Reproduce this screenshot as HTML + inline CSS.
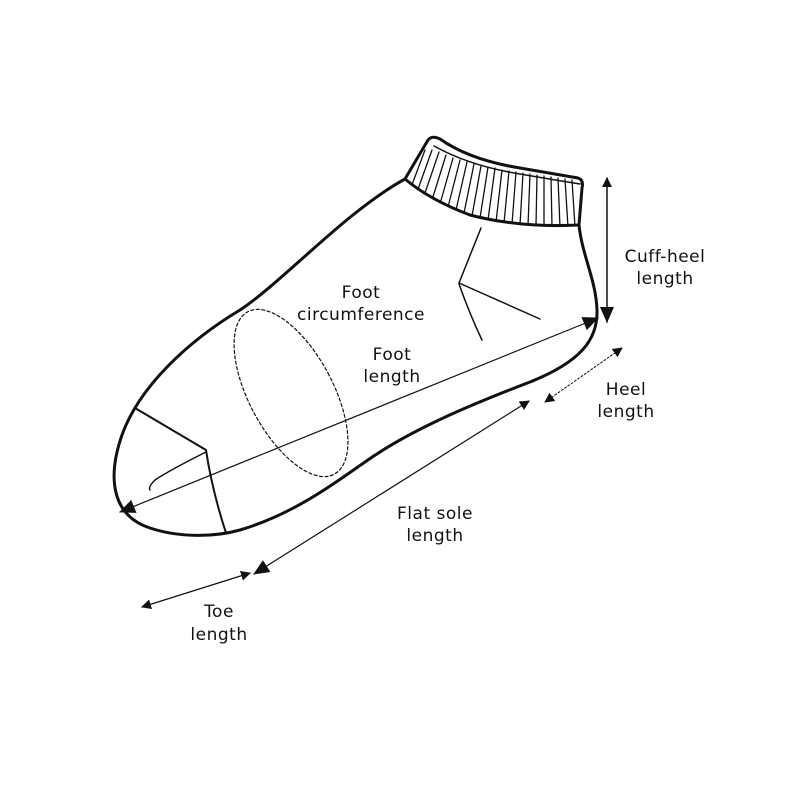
<!DOCTYPE html>
<html><head><style>
body{margin:0;background:#fff}
text{font-family:"DejaVu Sans","Liberation Sans",sans-serif;font-size:17px;fill:#111;text-anchor:middle;letter-spacing:0.5px}
</style></head><body>
<svg width="800" height="800" viewBox="0 0 800 800" xmlns="http://www.w3.org/2000/svg">
<defs>
<marker id="a" markerWidth="10" markerHeight="10" refX="9" refY="5" orient="auto-start-reverse" markerUnits="userSpaceOnUse"><path d="M0,0 L10,5 L0,10 Z" fill="#111"/></marker>
<marker id="b" markerWidth="16" markerHeight="14" refX="15" refY="7" orient="auto-start-reverse" markerUnits="userSpaceOnUse"><path d="M0,0 L16,7 L0,14 Z" fill="#111"/></marker>
<clipPath id="cc"><path d="M428,140 Q432,135 440,139 Q470,160 520,168 Q555,174 578,178 Q584,180 582,188 L579,225 Q520,228 470,215 Q430,200 405,179 Z"/></clipPath>
</defs>
<g fill="none" stroke="#111" stroke-linecap="round" stroke-linejoin="round">
<path stroke-width="3" d="M405,179 C345,212 285,280 240,310 C190,340 140,385 122,435 C108,475 110,515 150,528 C180,538 215,537 240,530 C290,515 325,490 365,462 C410,430 470,405 530,382 C580,362 598,340 597,310 C596,280 582,255 579,225"/>
<path stroke-width="3" d="M428,140 Q432,135 440,139 Q470,160 520,168 Q555,174 578,178 Q584,180 582,188 L579,225 Q520,228 470,215 Q430,200 405,179 Z"/>
<path stroke-width="1.5" d="M434,146 Q470,166 520,174 Q555,180 580,184"/>
<g clip-path="url(#cc)" stroke-width="1.3">
<line x1="425" y1="150" x2="410" y2="190"/><line x1="432" y1="150" x2="417" y2="192"/><line x1="439" y1="152" x2="424" y2="196"/><line x1="446" y1="155" x2="432" y2="200"/><line x1="453" y1="158" x2="440" y2="204"/><line x1="460" y1="160" x2="448" y2="207"/><line x1="467" y1="162" x2="456" y2="210"/><line x1="474" y1="164" x2="464" y2="213"/><line x1="481" y1="166" x2="472" y2="216"/><line x1="488" y1="167" x2="480" y2="218"/><line x1="495" y1="168" x2="488" y2="220"/><line x1="502" y1="170" x2="496" y2="222"/><line x1="509" y1="171" x2="504" y2="223"/><line x1="516" y1="172" x2="512" y2="224"/><line x1="523" y1="173" x2="520" y2="225"/><line x1="530" y1="174" x2="528" y2="226"/><line x1="537" y1="175" x2="536" y2="226"/><line x1="544" y1="176" x2="544" y2="227"/><line x1="551" y1="177" x2="552" y2="227"/><line x1="558" y1="178" x2="560" y2="227"/><line x1="565" y1="179" x2="568" y2="227"/><line x1="572" y1="180" x2="575" y2="227"/>
</g>
<path stroke-width="1.5" d="M481,228 L459,283 L540,319 M459,284 Q470,315 482,340"/>
<path stroke-width="2" d="M135,408 L206,450 Q212,490 226,533"/>
<path stroke-width="1.5" d="M206,452 Q170,470 155,480 Q148,487 150,490"/>
<ellipse cx="291" cy="393" rx="42" ry="92" transform="rotate(-28 291 393)" stroke-width="1.2" stroke-dasharray="3,2.5"/>
<line x1="120" y1="512" x2="598" y2="318" stroke-width="1.2" marker-start="url(#b)" marker-end="url(#b)"/>
<line x1="607" y1="178" x2="607" y2="322" stroke-width="1.5" marker-start="url(#a)" marker-end="url(#b)"/>
<line x1="545" y1="402" x2="622" y2="348" stroke-width="1" stroke-dasharray="2,2" marker-start="url(#a)" marker-end="url(#a)"/>
<line x1="254" y1="574" x2="529" y2="401" stroke-width="1.2" marker-start="url(#b)" marker-end="url(#a)"/>
<line x1="142" y1="607" x2="250" y2="573" stroke-width="1.2" marker-start="url(#a)" marker-end="url(#a)"/>
</g>
<text x="361" y="298">Foot</text><text x="361" y="320">circumference</text>
<text x="392" y="360">Foot</text><text x="392" y="382">length</text>
<text x="665" y="262">Cuff-heel</text><text x="665" y="284">length</text>
<text x="626" y="395">Heel</text><text x="626" y="417">length</text>
<text x="435" y="519">Flat sole</text><text x="435" y="541">length</text>
<text x="219" y="617">Toe</text><text x="219" y="640">length</text>
</svg>
</body></html>
